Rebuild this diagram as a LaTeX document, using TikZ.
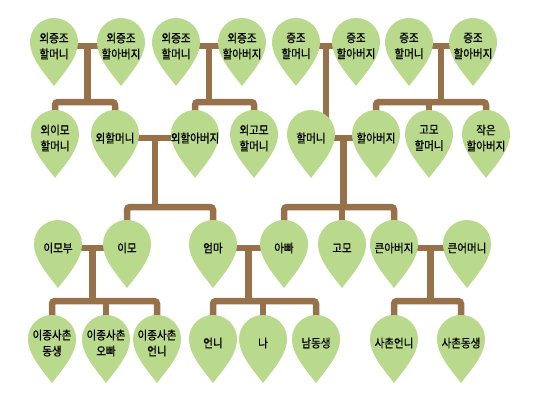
\documentclass[tikz,border=0pt]{standalone}
\usepackage{fontspec}
\newfontfamily\kofont[FakeBold=0.8,FakeStretch=0.88]{Noto Sans CJK KR}
\usetikzlibrary{backgrounds,calc}
\definecolor{leafgreen}{RGB}{185,217,141}
\definecolor{branchbrown}{RGB}{150,113,74}

\begin{document}
\begin{tikzpicture}[x=1pt,y=-1pt,
  person/.style={align=center,inner sep=0pt,font=\kofont\fontsize{12}{16}\selectfont},
  branch/.style={draw=branchbrown,line width=6.5pt,rounded corners=3pt}]
\useasboundingbox (0,0) rectangle (540,400);
% great-grandparents
\node[person] (ojhm1) at (54,46) {외증조\\할머니};
\node[person] (ojhb1) at (121,46) {외증조\\할아버지};
\node[person] (ojhm2) at (176,46) {외증조\\할머니};
\node[person] (ojhb2) at (242,46) {외증조\\할아버지};
\node[person] (jhm1) at (296,46) {증조\\할머니};
\node[person] (jhb1) at (356,46) {증조\\할아버지};
\node[person] (jhm2) at (409,46) {증조\\할머니};
\node[person] (jhb2) at (473,46) {증조\\할아버지};
% grandparents
\node[person] (oimohm) at (55,138) {외이모\\할머니};
\node[person] (oehm) at (115,138) {외할머니};
\node[person] (oehb) at (195,138) {외할아버지};
\node[person] (oegmhm) at (254,138) {외고모\\할머니};
\node[person] (hm) at (311,138) {할머니};
\node[person] (hb) at (376,138) {할아버지};
\node[person] (gmhm) at (429,138) {고모\\할머니};
\node[person] (jakhb) at (486,138) {작은\\할아버지};
% parents
\node[person] (imobu) at (58,248) {이모부};
\node[person] (imo) at (127,248) {이모};
\node[person] (umma) at (213,248) {엄마};
\node[person] (appa) at (284,248) {아빠};
\node[person] (gomo) at (342,248) {고모};
\node[person] (kab) at (394,248) {큰아버지};
\node[person] (kum) at (467,248) {큰어머니};
% children
\node[person] (ijdong) at (52,343) {이종사촌\\동생};
\node[person] (ijoppa) at (106,343) {이종사촌\\오빠};
\node[person] (ijunni) at (157,343) {이종사촌\\언니};
\node[person] (unni) at (213,343) {언니};
\node[person] (na) at (263,343) {나};
\node[person] (namd) at (316,343) {남동생};
\node[person] (sunni) at (394,343) {사촌언니};
\node[person] (sdong) at (461,343) {사촌동생};

\begin{scope}[on background layer]
% first generation
\coordinate (m1) at ($(ojhm1)!.5!(ojhb1)$);
\coordinate (m2) at ($(ojhm2)!.5!(ojhb2)$);
\coordinate (m3) at ($(jhm1)!.5!(jhb1)$);
\coordinate (m4) at ($(jhm2)!.5!(jhb2)$);
\draw[branch] (ojhm1) -- (ojhb1) (m1) -- (m1 |- 0,102);
\draw[branch] (oimohm) |- (m1 |- 0,102) -| (oehm);
\draw[branch] (ojhm2) -- (ojhb2) (m2) -- (m2 |- 0,102);
\draw[branch] (oehb) |- (m2 |- 0,102) -| (oegmhm);
\draw[branch] (jhm1) -- (jhb1) (m3) -- (m3 |- hm);
\draw[branch] (jhm2) -- (jhb2) (m4) -- (m4 |- 0,102);
\draw[branch] (hb) |- (m4 |- 0,102) -| (jakhb);
\draw[branch] (gmhm) -- (gmhm |- 0,102);
% second generation
\coordinate (m5) at ($(oehm)!.5!(oehb)$);
\coordinate (m6) at ($(hm)!.5!(hb)$);
\draw[branch] (oehm) -- (oehb) (m5) -- (m5 |- 0,207);
\draw[branch] (imo) |- (m5 |- 0,207) -| (umma);
\draw[branch] (hm) -- (hb) (m6) -- (m6 |- 0,207);
\draw[branch] (appa) |- (m6 |- 0,207) -| (kab);
\draw[branch] (gomo) -- (gomo |- 0,207);
% third generation
\coordinate (m7) at ($(imobu)!.5!(imo)$);
\coordinate (m8) at ($(umma)!.5!(appa)$);
\coordinate (m9) at ($(kab)!.5!(kum)$);
\draw[branch] (imobu) -- (imo) (m7) -- (m7 |- 0,301);
\draw[branch] (ijdong) |- (m7 |- 0,301) -| (ijunni);
\draw[branch] (ijoppa) -- (ijoppa |- 0,301);
\draw[branch] (umma) -- (appa) (m8) -- (m8 |- 0,301);
\draw[branch] (unni) |- (m8 |- 0,301) -| (namd);
\draw[branch] (na) -- (na |- 0,301);
\draw[branch] (kab) -- (kum) (m9) -- (m9 |- 0,301);
\draw[branch] (sunni) |- (m9 |- 0,301) -| (sdong);
% leaves
\foreach \p in {ojhm1,ojhb1,ojhm2,ojhb2,jhm1,jhb1,jhm2,jhb2,
    oimohm,oehm,oehb,oegmhm,hm,hb,gmhm,jakhb,
    imobu,imo,umma,appa,gomo,kab,kum,
    ijdong,ijoppa,ijunni,unni,na,namd,sunni,sdong}
  \fill[leafgreen] (\p.center) ++(-24pt,4pt) arc[start angle=180,end angle=0,radius=24pt]
    .. controls +(0,-16pt) and +(9pt,12pt) .. ++(-24pt,-44pt)
    .. controls +(-9pt,12pt) and +(0,-16pt) .. ++(-24pt,44pt) -- cycle;
\end{scope}
\end{tikzpicture}
\end{document}
